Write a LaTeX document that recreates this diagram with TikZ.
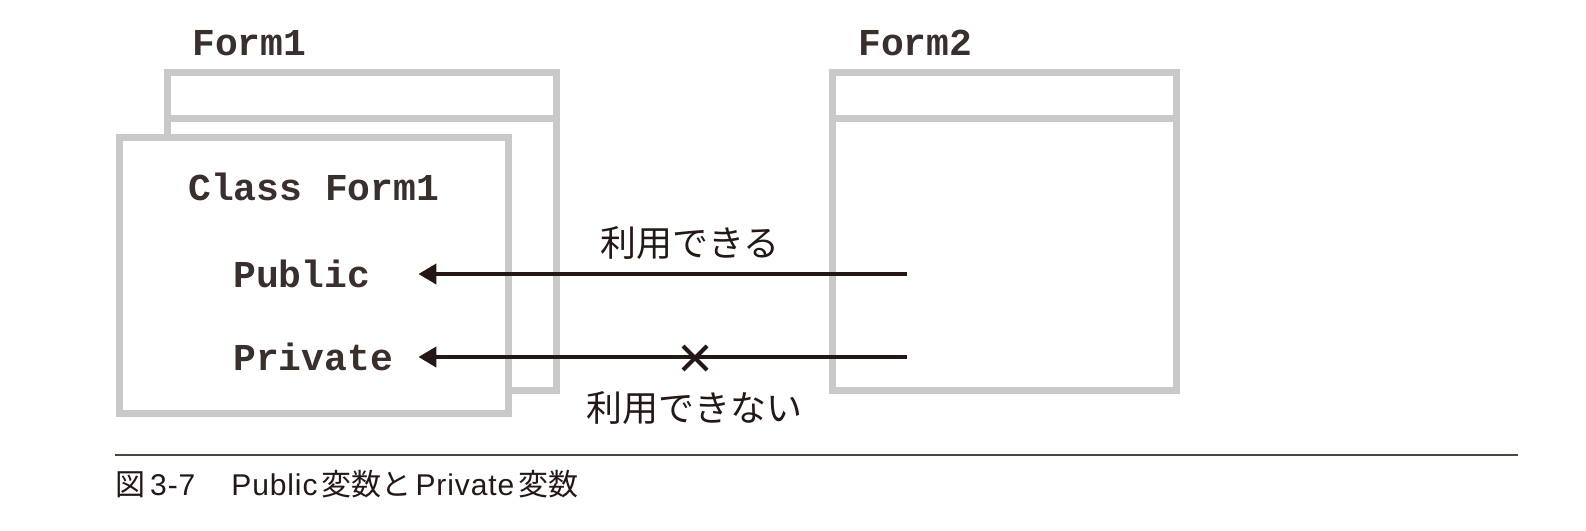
\documentclass[tikz,border=0pt]{standalone}
\usepackage{fontspec}
\setmainfont{Liberation Sans}[LetterSpace=3]
\newfontfamily\codefont{Liberation Mono}
\newfontfamily\jpfont{Noto Sans CJK JP}
\usetikzlibrary{arrows.meta, positioning, shapes.misc}

\definecolor{wingray}{HTML}{C9C9C9}
\definecolor{inkblack}{HTML}{231815}

\begin{document}
\begin{tikzpicture}[x=1pt, y=-1pt,
    win/.style={rectangle, draw=wingray, line width=7pt, fill=white, inner sep=0pt, outer sep=0pt},
    winline/.style={draw=wingray, line width=7pt},
    code/.style={font=\fontsize{38}{40}\selectfont\codefont\bfseries, text=inkblack!90, inner sep=0pt},
    member/.style={code, text width=185pt, align=left, anchor=west},
    jplabel/.style={font=\fontsize{36}{38}\selectfont\jpfont, text=inkblack, inner sep=0pt},
    arrow/.style={-{Triangle[length=18pt, width=20pt]}, line width=4pt, draw=inkblack},
    nomark/.style={cross out, draw=inkblack, line width=4pt, minimum size=20pt, inner sep=0pt},
    caption/.style={font=\fontsize{30}{32}\selectfont, text=inkblack, inner sep=0pt}]

    \useasboundingbox (0,0) rectangle (1586,530);

    \node[win, minimum width=389pt, minimum height=318pt] (f1back) at (361.5,231) {};
    \draw[winline] ([yshift=-46pt]f1back.north west) -- ([yshift=-46pt]f1back.north east);
    \node[win, minimum width=389pt, minimum height=276pt] (f1front) at (313.5,275) {};

    \node[win, minimum width=344pt, minimum height=318pt] (f2) at (1004,231) {};
    \draw[winline] ([yshift=-46pt]f2.north west) -- ([yshift=-46pt]f2.north east);

    \node[code, anchor=base west] (f1name) at (192,55) {Form1};
    \node[code, anchor=base west] (f2name) at (858,55) {Form2};

    \node[code, anchor=base west] (cls) at (188,200) {Class Form1};
    \node[member] (pub) at (233,274) {Public};
    \node[member] (priv) at (233,357) {Private};

    \coordinate (pubsrc) at (907,274);
    \coordinate (privsrc) at (907,357);

    \draw[arrow] (pubsrc) -- (pub.east);
    \draw[arrow] (privsrc) -- (priv.east);

    \node[nomark] (ng) at (695,358) {};

    \node[jplabel] (ok) at (690,243) {利用できる};
    \node[jplabel] (ngtext) at (694,408) {利用できない};

    \coordinate (rulel) at (115,455);
    \coordinate (ruler) at (1518,455);
    \draw[draw=inkblack!80, line width=2pt] (rulel) -- (ruler);

    \node[caption, anchor=base west] (cap) at (115,495)
        {{\jpfont 図}\hspace{5pt}3-7\hspace{36pt}Public\hspace{4pt}{\jpfont 変数と}\hspace{4pt}Private\hspace{4pt}{\jpfont 変数}};
\end{tikzpicture}
\end{document}
